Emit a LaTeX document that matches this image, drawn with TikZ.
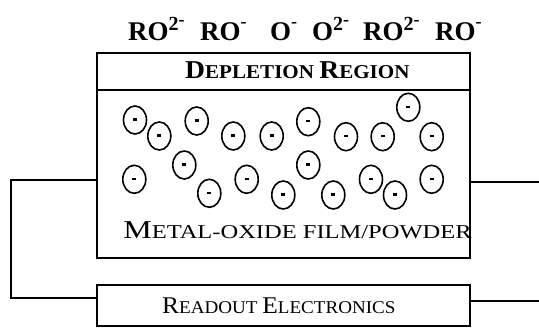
\documentclass[tikz,border=0pt]{standalone}
\usepackage{fontspec}
\setmainfont{Liberation Serif}
\usetikzlibrary{shapes.geometric}
\newcommand{\capA}[1]{{\fontsize{25.7}{26}\selectfont #1}}
\newcommand{\capB}[1]{{\fontsize{19.6}{20}\selectfont #1}}
\newcommand{\ionbig}[1]{{\fontsize{27}{28}\selectfont #1}}
\newcommand{\suptwo}{\raisebox{10pt}{\fontsize{20}{20}\selectfont 2}\raisebox{15pt}{\fontsize{18}{18}\selectfont -}}
\newcommand{\supone}{\raisebox{13pt}{\fontsize{18}{18}\selectfont -}}
\begin{document}
\begin{tikzpicture}[x=1pt,y=-1pt,
  boxnode/.style={draw, line width=1.8pt, minimum width=373pt, inner sep=0pt, rectangle},
  wire/.style={line width=1.5pt},
  lbl/.style={inner sep=0pt, anchor=base west},
  ion/.style={draw, ellipse, line width=1.6pt, minimum width=23pt, minimum height=28pt, inner sep=0pt}
]
\useasboundingbox (0,0) rectangle (539,329);
% boxes
\node[boxnode, minimum height=37pt] (dep) at (283.5,71.5) {};
\node[boxnode, minimum height=168pt] (film) at (283.5,174) {};
\node[boxnode, minimum height=41pt] (readout) at (283.5,305.5) {};
% labels
\node[lbl] (ions) at (128,41) {\bfseries\ionbig{\makebox[72pt][l]{RO\suptwo}\makebox[70pt][l]{RO\supone}\makebox[42pt][l]{O\supone}\makebox[51pt][l]{O\suptwo}\makebox[72pt][l]{RO\suptwo}\makebox[50pt][l]{RO\supone}}};
\node[lbl, xscale=1.075] (tdep) at (185,79) {\bfseries\capA{D}\capB{EPLETION }\capA{R}\capB{EGION}};
\node[lbl, xscale=1.25] (tfilm) at (123,238) {\capA{M}\capB{ETAL-OXIDE FILM/POWDER}};
\node[lbl, xscale=1.06] (tread) at (162,313) {{\fontsize{24}{24}\selectfont R}{\fontsize{18}{18}\selectfont EADOUT }{\fontsize{24}{24}\selectfont E}{\fontsize{18}{18}\selectfont LECTRONICS}};
% electrons
\foreach \n/\x/\y in {1/135/120, 2/159.3/136, 3/196.7/121, 4/233.3/136, 5/271.7/136, 6/308.3/121.7, 7/346/136.7, 8/382.7/136.7, 9/408.3/107.3, 10/431.7/136.7, 11/134.3/179.3, 12/184.3/165, 13/209.3/193.3, 14/246.7/179.3, 15/283.3/195, 16/308.3/165, 17/333.3/195, 18/371/179.3, 19/395/195, 20/431.7/179.3}
  \node[ion] (e\n) at (\x,\y) {\rule[1pt]{4pt}{2.2pt}};
% wires
\coordinate (lw1) at (11,180);
\coordinate (lw2) at (11,298);
\coordinate (rw1) at (539,182);
\coordinate (rw2) at (539,301);
\draw[wire] (film.west |- lw1) -- (lw1) -- (lw2) -- (readout.west |- lw2);
\draw[wire] (film.east |- rw1) -- (rw1);
\draw[wire] (readout.east |- rw2) -- (rw2);
\end{tikzpicture}
\end{document}
